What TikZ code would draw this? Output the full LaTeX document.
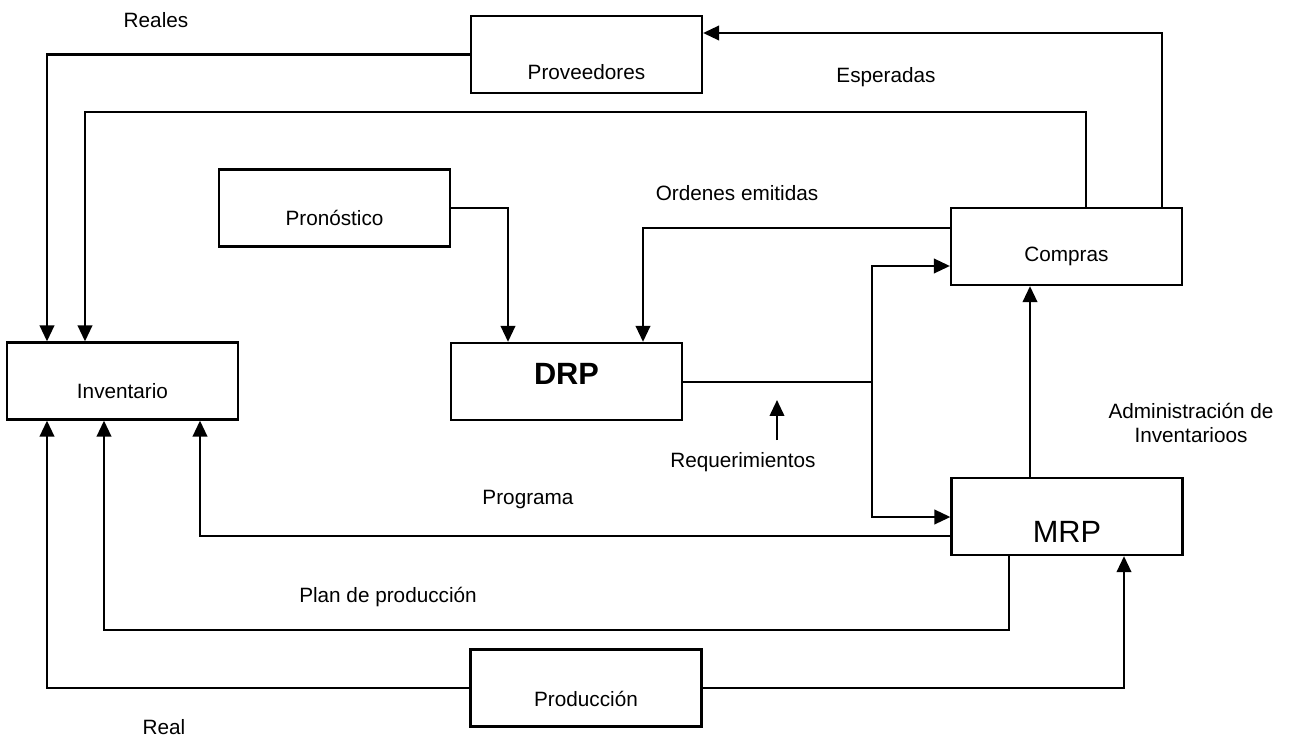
\documentclass[tikz,border=0pt]{standalone}
\usepackage{fontspec}
\setmainfont{Liberation Sans}
\usetikzlibrary{arrows.meta}
\begin{document}
\begin{tikzpicture}[x=0.02cm,y=-0.02cm,
  box/.style={draw, line width=1.3pt, minimum width=4.62cm, minimum height=1.54cm, inner sep=0pt},
  conn/.style={line width=1.3pt},
  arr/.style={conn, -{Triangle[length=0.32cm,width=0.29cm]}},
  lbl/.style={inner sep=0pt, font=\fontsize{11.8}{14}\selectfont},
  big/.style={inner sep=0pt, font=\fontsize{17.5}{20}\selectfont},
  ]
\useasboundingbox (0,0) rectangle (1289,740);

% boxes
\node[box, label={[lbl,yshift=-0.36cm]center:Proveedores}] (prov) at (586.5,54.5) {};
\node[box, label={[lbl,yshift=-0.2cm]center:Pronóstico}] (pron) at (334.5,208) {};
\node[box, label={[lbl,yshift=-0.2cm]center:Inventario}] (inv) at (122.5,381) {};
\node[box, label={[big,font=\fontsize{17.5}{20}\selectfont\bfseries,yshift=0.15cm]center:DRP}] (drp) at (566.5,381.5) {};
\node[box, label={[lbl,yshift=-0.2cm]center:Compras}] (comp) at (1066.5,246.5) {};
\node[box, label={[big,yshift=-0.3cm]center:MRP}] (mrp) at (1067,516.5) {};
\node[box, label={[lbl,yshift=-0.22cm]center:Producción}] (prod) at (586,688) {};

% routing points
\coordinate (r1) at (47,54.5);
\coordinate (e1) at (1162,33);
\coordinate (s1) at (1086,112);
\coordinate (s2) at (85,112);
\coordinate (p1) at (508,208);
\coordinate (o1) at (643,228);
\coordinate (j) at (872,382);
\coordinate (jc) at (872,266);
\coordinate (jm) at (872,517);
\coordinate (m1) at (1030,400);
\coordinate (g1) at (200,536);
\coordinate (q1) at (1009,630);
\coordinate (q2) at (104,630);
\coordinate (b1) at (47,688);
\coordinate (b2) at (1124,688);
\coordinate (rq1) at (777,440);
\coordinate (rq2) at (777,400);

% connectors
\draw[arr] (prov.west) -- (r1) -- (r1 |- inv.north);
\draw[arr] (e1 |- comp.north) -- (e1) -- (e1 -| prov.east);
\draw[arr] (s1 |- comp.north) -- (s1) -- (s2) -- (s2 |- inv.north);
\draw[arr] (pron.east |- p1) -- (p1) -- (p1 |- drp.north);
\draw[arr] (comp.west |- o1) -- (o1) -- (o1 |- drp.north);
\draw[conn] (drp.east |- j) -- (j);
\draw[arr] (j) -- (jc) -- (comp.west |- jc);
\draw[arr] (j) -- (jm) -- (mrp.west |- jm);
\draw[arr] (m1 |- mrp.north) -- (m1 |- comp.south);
\draw[arr] (mrp.west |- g1) -- (g1) -- (g1 |- inv.south);
\draw[arr] (q1 |- mrp.south) -- (q1) -- (q2) -- (q2 |- inv.south);
\draw[arr] (prod.west |- b1) -- (b1) -- (b1 |- inv.south);
\draw[arr] (prod.east |- b2) -- (b2) -- (b2 |- mrp.south);
\draw[arr] (rq1) -- (rq2);

% flow labels
\node[lbl] (tReales) at (156,20) {Reales};
\node[lbl] (tEsp) at (886,77) {Esperadas};
\node[lbl] (tOrd) at (737,193) {Ordenes emitidas};
\node[lbl] (tReq) at (743,462) {Requerimientos};
\node[lbl, align=center, font=\fontsize{11.8}{13.2}\selectfont] (tAdm) at (1191,423) {Administración de\\Inventarioos};
\node[lbl] (tProg) at (528,500) {Programa};
\node[lbl] (tPlan) at (388,597) {Plan de producción};
\node[lbl] (tReal) at (164,727) {Real};
\end{tikzpicture}
\end{document}
